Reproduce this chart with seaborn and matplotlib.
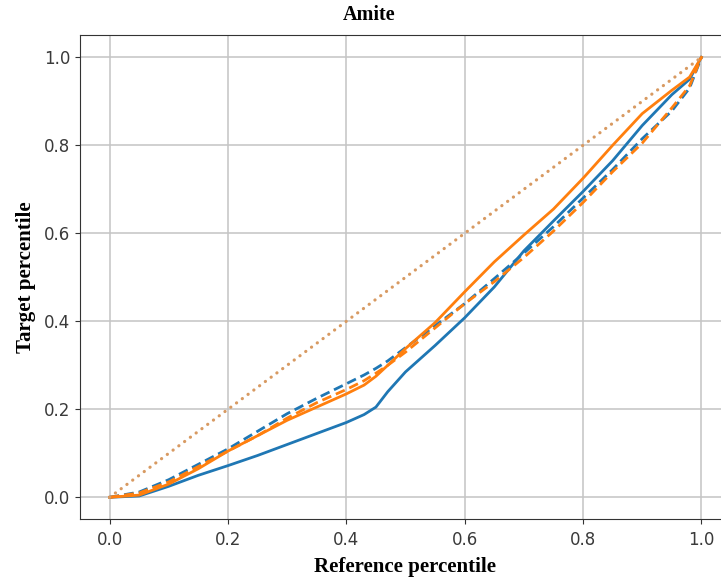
import matplotlib
matplotlib.use("Agg")
import matplotlib.pyplot as plt
import seaborn as sns
import pandas as pd

# Data
ref_pct = [0.0, 0.05, 0.10, 0.15, 0.20, 0.25, 0.30, 0.35, 0.40, 0.43, 0.45, 0.47, 0.50,
           0.55, 0.60, 0.65, 0.70, 0.75, 0.80, 0.85, 0.90, 0.95, 0.98, 1.0]
blue_solid = [0.0, 0.003, 0.025, 0.050, 0.072, 0.095, 0.120, 0.145, 0.170, 0.188, 0.205, 0.240, 0.285,
              0.345, 0.408, 0.478, 0.560, 0.628, 0.695, 0.765, 0.845, 0.915, 0.950, 1.0]
blue_dashed = [0.0, 0.012, 0.040, 0.075, 0.110, 0.150, 0.190, 0.225, 0.258, 0.278, 0.293, 0.310, 0.340,
               0.390, 0.440, 0.497, 0.555, 0.615, 0.680, 0.745, 0.815, 0.878, 0.930, 1.0]
orange_solid = [0.0, 0.005, 0.030, 0.065, 0.105, 0.140, 0.175, 0.205, 0.235, 0.255, 0.275, 0.300, 0.338,
                0.397, 0.467, 0.535, 0.596, 0.655, 0.725, 0.800, 0.872, 0.925, 0.955, 1.0]
orange_dashed = [0.0, 0.010, 0.035, 0.070, 0.105, 0.140, 0.180, 0.215, 0.245, 0.265, 0.282, 0.300, 0.330,
                 0.385, 0.440, 0.490, 0.545, 0.605, 0.670, 0.740, 0.805, 0.885, 0.935, 1.0]
diag = [0.0, 1.0]

fig = plt.figure(figsize=(7.21, 5.79), dpi=100)
ax = fig.add_axes([80 / 721, 59.7 / 579, 651 / 721, 484 / 579])

blue = "#1f77b4"
orange = "#ff7f0e"

df = pd.DataFrame({"x": ref_pct, "bs": blue_solid, "bd": blue_dashed,
                   "os": orange_solid, "od": orange_dashed})

lw = 2.0
sns.lineplot(data=df, x="x", y="bs", ax=ax, color=blue, linewidth=lw)
sns.lineplot(data=df, x="x", y="bd", ax=ax, color=blue, linewidth=lw, linestyle=(0, (3.5, 1.8)))
sns.lineplot(data=df, x="x", y="os", ax=ax, color=orange, linewidth=lw)
sns.lineplot(data=df, x="x", y="od", ax=ax, color=orange, linewidth=lw, linestyle=(0, (3.5, 1.8)))
sns.lineplot(x=diag, y=diag, ax=ax, color="#d89a62", linewidth=2.3, linestyle=(0, (0.05, 2.2)),
             dash_capstyle="round")

ax.set_xlim(-0.05, 1.05)
ax.set_ylim(-0.05, 1.05)
ax.set_xticks([0.0, 0.2, 0.4, 0.6, 0.8, 1.0])
ax.set_yticks([0.0, 0.2, 0.4, 0.6, 0.8, 1.0])
ax.grid(True, color="#c4c4c4", linewidth=1.1)
ax.set_axisbelow(True)
ax.tick_params(labelsize=12, labelcolor="#3a3a3a", color="#333333")
ax.tick_params(axis="x", pad=5)
for s in ax.spines.values():
    s.set_color("#333333")

serif = {"family": ["Liberation Serif", "DejaVu Serif"], "weight": "bold", "size": 15}
ax.set_xlabel("Reference percentile", fontdict=serif, labelpad=6)
ax.set_ylabel("Target percentile", fontdict=serif, labelpad=6)
fig.text(0.5125, 1 - 15 / 579, "Amite", ha="center", va="center",
         family=["Liberation Serif", "DejaVu Serif"], weight="bold", fontsize=14.5)

fig.savefig("out.png", dpi=100)
